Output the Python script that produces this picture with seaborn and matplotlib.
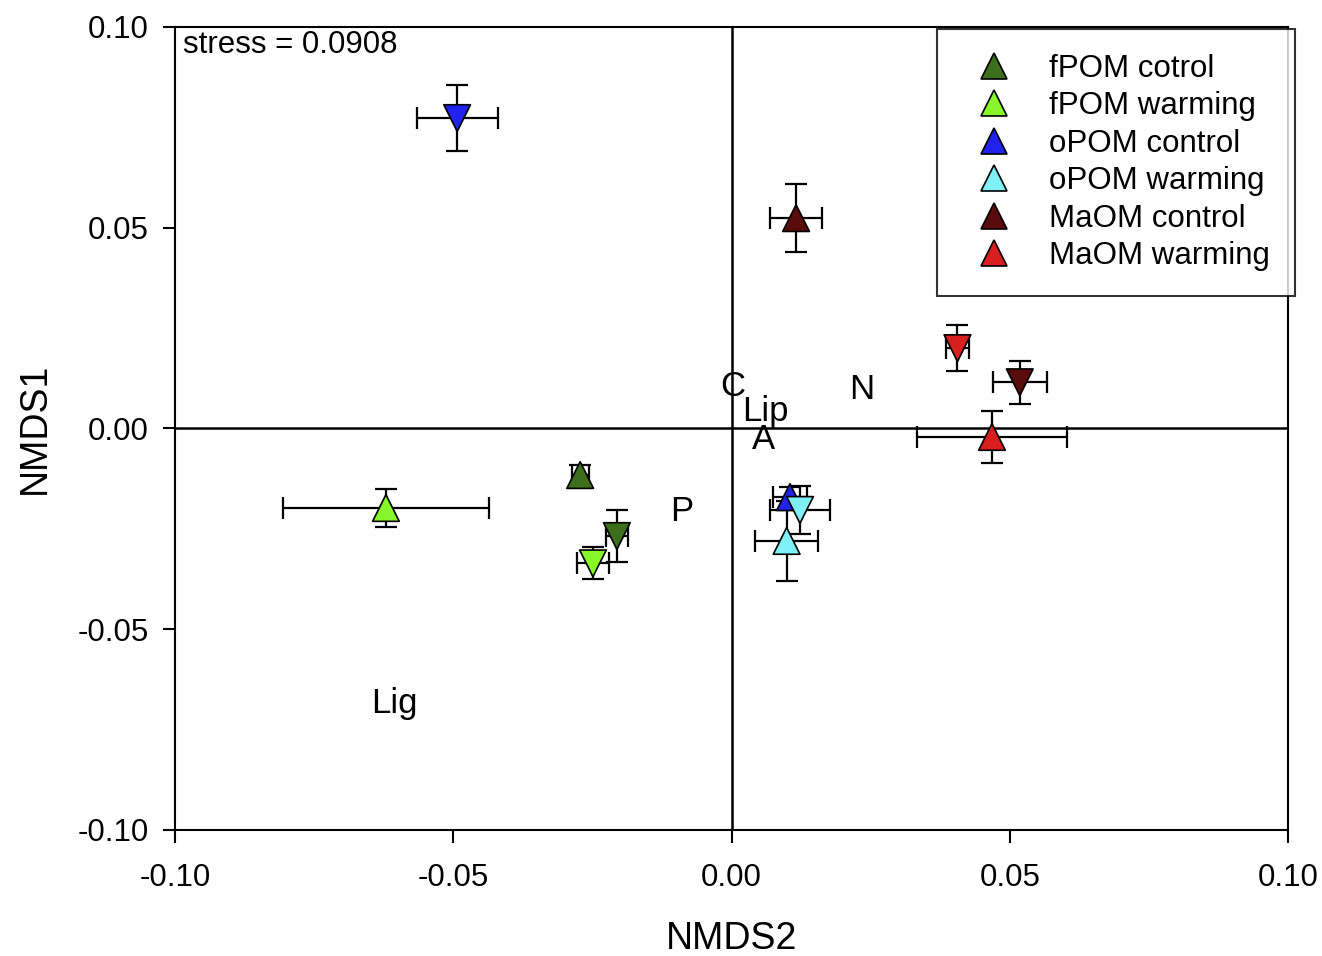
import numpy as np
import pandas as pd
import matplotlib
matplotlib.use("Agg")
import matplotlib.pyplot as plt
from matplotlib.lines import Line2D
import seaborn as sns

# ---------------------------------
# Data (NMDS scores, mean +/- se)
# ---------------------------------
groups = ["fPOM cotrol", "fPOM warming", "oPOM control", "oPOM warming", "MaOM control", "MaOM warming"]
colors = ["#3d6e1c", "#86f52a", "#2222ee", "#7ff0f5", "#5a0c0c", "#d81e1e"]

group_col = ["fPOM cotrol", "fPOM cotrol", "fPOM warming", "fPOM warming",
             "oPOM control", "oPOM control", "oPOM warming", "oPOM warming",
             "MaOM control", "MaOM control", "MaOM warming", "MaOM warming"]
shape_col = ["up", "down"] * 6
nmds2 = [-0.0272, -0.0206, -0.0621, -0.0249, 0.0105, -0.0493, 0.0099, 0.0123, 0.0116, 0.0518, 0.0468, 0.0406]
nmds1 = [-0.0116, -0.0268, -0.0198, -0.0336, -0.0171, 0.0773, -0.0280, -0.0203, 0.0524, 0.0115, -0.0021, 0.0200]
err2 = [0.0015, 0.0020, 0.0185, 0.0029, 0.0030, 0.0073, 0.0056, 0.0054, 0.0046, 0.0049, 0.0134, 0.0020]
err1 = [0.0025, 0.0065, 0.0048, 0.0040, 0.0025, 0.0083, 0.0100, 0.0060, 0.0085, 0.0054, 0.0065, 0.0057]

# variable labels
var_labels = ["C", "Lip", "A", "N", "P", "Lig"]
var_x = [0.0003, 0.0060, 0.0057, 0.0234, -0.0089, -0.0605]
var_y = [0.0105, 0.0043, -0.0028, 0.0098, -0.0208, -0.0686]

df = pd.DataFrame({"group": group_col, "shape": shape_col, "NMDS2": nmds2, "NMDS1": nmds1,
                   "e2": err2, "e1": err1})

# ---------------------------------
# Plot
# ---------------------------------
sns.set_style("ticks")
plt.rcParams["font.family"] = ["Liberation Sans", "DejaVu Sans"]
for k in ["text.color", "axes.labelcolor", "xtick.color", "ytick.color", "axes.edgecolor"]:
    plt.rcParams[k] = "black"

fig = plt.figure(figsize=(13.22, 9.56), dpi=100)
ax = fig.add_axes([0.1324, 0.1318, 0.8419, 0.84])

# zero lines
ax.axhline(0, color="black", lw=1.8, zorder=1)
ax.axvline(0, color="black", lw=1.8, zorder=1)

# error bars
ax.errorbar(df["NMDS2"], df["NMDS1"], xerr=df["e2"], yerr=df["e1"], fmt="none",
            ecolor="black", elinewidth=1.6, capsize=8, capthick=1.6, zorder=2)

palette = dict(zip(groups, colors))
sns.scatterplot(data=df, x="NMDS2", y="NMDS1", hue="group", style="shape",
                markers={"up": "^", "down": "v"}, palette=palette, hue_order=groups,
                s=370, edgecolor="black", linewidth=1.2, legend=False, ax=ax, zorder=3)

for lab, x, y in zip(var_labels, var_x, var_y):
    ax.text(x, y, lab, fontsize=25, ha="center", va="center", zorder=4)

ax.text(-0.0985, 0.0955, "stress = 0.0908", fontsize=22.5, ha="left", va="center")

ax.set_xlim(-0.10, 0.10)
ax.set_ylim(-0.10, 0.10)
ax.set_xticks([-0.10, -0.05, 0.00, 0.05, 0.10])
ax.set_yticks([-0.10, -0.05, 0.00, 0.05, 0.10])
ax.set_xticklabels(["-0.10", "-0.05", "0.00", "0.05", "0.10"])
ax.set_yticklabels(["-0.10", "-0.05", "0.00", "0.05", "0.10"])
ax.tick_params(axis="both", labelsize=22.5, length=9, width=1.5, direction="out", pad=10)
ax.tick_params(axis="x", pad=15)
for sp in ax.spines.values():
    sp.set_linewidth(1.5)
    sp.set_visible(True)
ax.set_xlabel("NMDS2", fontsize=27, labelpad=20)
ax.set_ylabel("NMDS1", fontsize=27, labelpad=18)

handles = [Line2D([0], [0], marker="^", linestyle="none", markersize=19,
                  markerfacecolor=c, markeredgecolor="black", markeredgewidth=1.2)
           for c in colors]
leg = ax.legend(handles, groups, loc="upper right", bbox_to_anchor=(1.006, 0.998),
                fontsize=22.5, frameon=True, fancybox=False, edgecolor="black",
                borderpad=0.8, labelspacing=0.24, handletextpad=0.69, borderaxespad=0,
                handlelength=2.1)
leg.get_frame().set_linewidth(1.5)

fig.savefig("out.png", dpi=100)
